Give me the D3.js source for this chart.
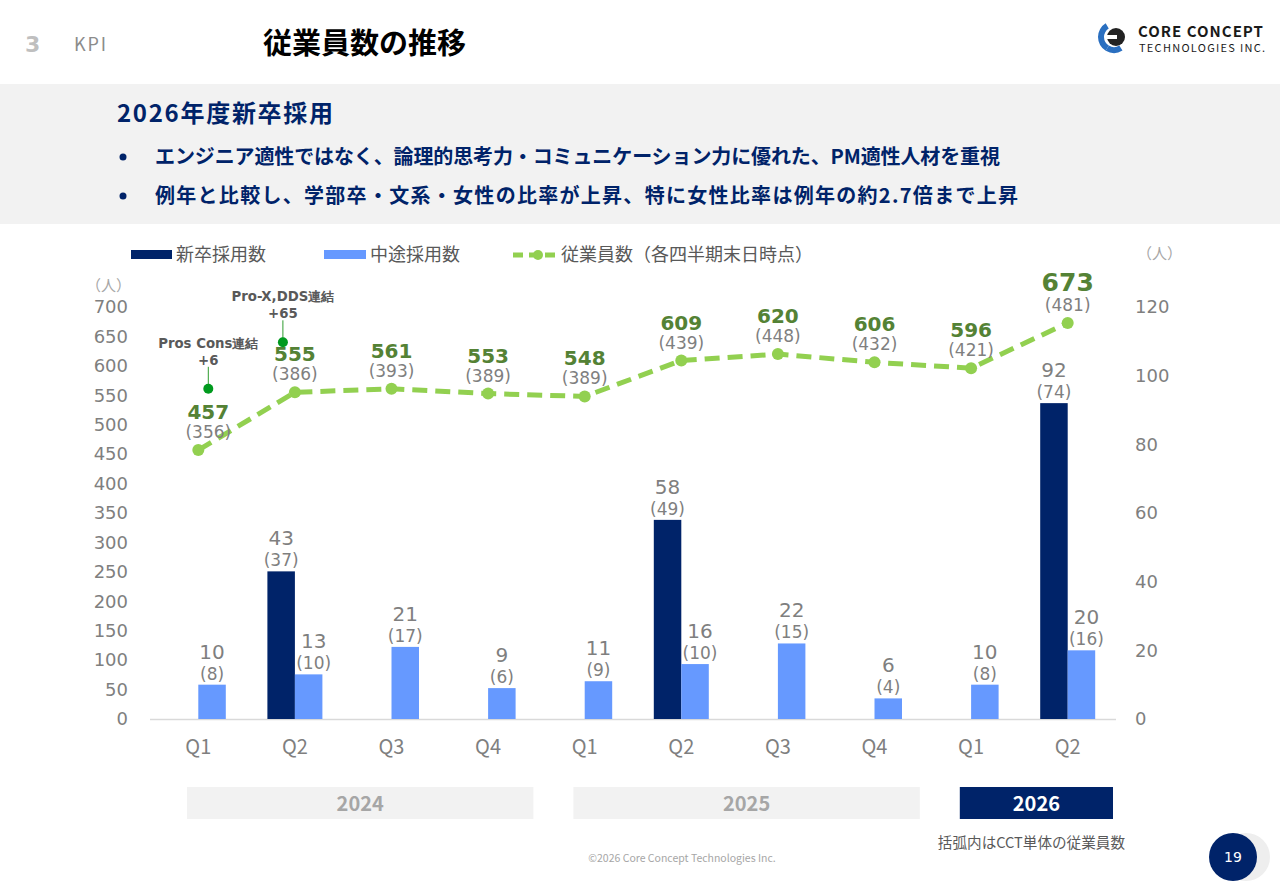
<!DOCTYPE html>
<html>
<head>
<meta charset="utf-8">
<script src="https://cdn.jsdelivr.net/npm/d3@7"></script>
<style>
  body { margin:0; background:#fff; }
  svg text { font-family: "Noto Sans CJK JP", "Noto Sans", sans-serif; }
  .num { font-family: "DejaVu Sans", Verdana, sans-serif; }
</style>
</head>
<body>
<div id="chart-area"></div>
<script>
var quarters = ["Q1","Q2","Q3","Q4","Q1","Q2","Q3","Q4","Q1","Q2"];
var newGrad = [null,43,null,null,null,58,null,null,null,92];
var newGradCCT = [null,37,null,null,null,49,null,null,null,74];
var midCareer = [10,13,21,9,11,16,22,6,10,20];
var midCareerCCT = [8,10,17,6,9,10,15,4,8,16];
var employees = [457,555,561,553,548,609,620,606,596,673];
var employeesCCT = [356,386,393,389,389,439,448,432,421,481];
var leftTicks = d3.range(0,701,50);
var rightTicks = d3.range(0,121,20);
var yearLabels = ["2024","2025","2026"];
var yearFirst = [0,4,8];
var yearLast = [3,7,9];
var notes = [
  {i:0, name:"Pros Cons連結", delta:"+6", level:561},
  {i:1, name:"Pro-X,DDS連結", delta:"+65", level:640}
];

var W = 1280, H = 886;
var navy = "#002369", light = "#6699ff", green = "#92d050", darkGreen = "#548235", grey = "#7f7f7f";

var svg = d3.select('#chart-area').append('svg')
            .attr("width",W)
            .attr("height",H);

// header
svg.append("text").attr("x",25).attr("y",52).attr("font-size",22).attr("font-weight","bold")
   .attr("fill","#bfbfbf").attr("class","num").text("3");
svg.append("text").attr("x",74).attr("y",51).attr("font-size",18).attr("fill","#8c8c8c")
   .attr("textLength",32).text("KPI");
svg.append("text").attr("x",263).attr("y",54).attr("font-size",29).attr("font-weight","bold")
   .attr("fill","#000").text("従業員数の推移");

// logo
var logo = svg.append("g").attr("transform","translate(1114,37)");
logo.append("path").attr("d", d3.arc()({innerRadius:10,outerRadius:16,startAngle:-2.6,endAngle:-0.55}))
    .attr("fill","#2a6fc0");
logo.append("path").attr("d", d3.arc()({innerRadius:10,outerRadius:16,startAngle:-3.7,endAngle:-2.6}))
    .attr("fill","#2a6fc0");
logo.append("circle").attr("cx",2).attr("cy",0).attr("r",9).attr("fill","#222");
logo.append("rect").attr("x",-8).attr("y",-2).attr("width",12).attr("height",4).attr("fill","#fff");
logo.append("rect").attr("x",3).attr("y",-7).attr("width",3).attr("height",14).attr("fill","#222");
svg.append("text").attr("x",1138).attr("y",37).attr("font-size",15).attr("font-weight","bold")
   .attr("font-family","Roboto, sans-serif").attr("fill","#1a1a1a")
   .attr("textLength",125).text("CORE CONCEPT");
svg.append("text").attr("x",1139).attr("y",52).attr("font-size",11)
   .attr("font-family","Roboto, sans-serif").attr("fill","#1a1a1a")
   .attr("textLength",126).text("TECHNOLOGIES INC.");

// summary band
svg.append("rect").attr("x",0).attr("y",84).attr("width",W).attr("height",140).attr("fill","#f2f2f2");
svg.append("text").attr("x",117).attr("y",122).attr("font-size",24).attr("font-weight","bold")
   .attr("fill",navy).attr("textLength",216).text("2026年度新卒採用");
var bullets = ["エンジニア適性ではなく、論理的思考力・コミュニケーション力に優れた、PM適性人材を重視",
               "例年と比較し、学部卒・文系・女性の比率が上昇、特に女性比率は例年の約2.7倍まで上昇"];
var bulletWidths = [845, 863];
bullets.forEach(function(b,k){
  var yy = 164 + k*39;
  svg.append("circle").attr("cx",123).attr("cy",yy-7).attr("r",3.5).attr("fill",navy);
  svg.append("text").attr("x",155).attr("y",yy).attr("font-size",20).attr("font-weight","bold")
     .attr("fill",navy).attr("textLength",bulletWidths[k]).text(b);
});

// scales
var x = d3.scaleBand().domain(d3.range(quarters.length)).range([150,1116]);
var yL = d3.scaleLinear().domain([0,700]).range([719,307]);
var yR = d3.scaleLinear().domain([0,120]).range([719,307]);
var bw = 27.5;
var cx = function(i){ return x(i) + x.bandwidth()/2; };

// axes
var axL = svg.append("g").attr("transform","translate(128,0)")
   .call(d3.axisLeft(yL).tickValues(leftTicks).tickSize(0).tickPadding(0));
var axR = svg.append("g").attr("transform","translate(1135,0)")
   .call(d3.axisRight(yR).tickValues(rightTicks).tickSize(0).tickPadding(0));
[axL,axR].forEach(function(a){
  a.select(".domain").remove();
  a.selectAll("text").attr("class","num").attr("font-size",18).attr("fill",grey);
});
svg.append("text").attr("x",86).attr("y",291).attr("font-size",15).attr("fill","#a6a6a6").text("（人）");
svg.append("text").attr("x",1137).attr("y",259).attr("font-size",15).attr("fill","#a6a6a6").text("（人）");

svg.append("line").attr("x1",150).attr("x2",1116).attr("y1",719.5).attr("y2",719.5)
   .attr("stroke","#d9d9d9").attr("stroke-width",1.5);

// bars
var idx = d3.range(quarters.length);
svg.selectAll(".newbar").data(idx.filter(function(i){ return newGrad[i] != null; })).enter()
   .append("rect").attr("x", function(i){ return cx(i) - bw; })
   .attr("y", function(i){ return yR(newGrad[i]); })
   .attr("width", bw).attr("height", function(i){ return yR(0) - yR(newGrad[i]); })
   .attr("fill", navy);
svg.selectAll(".midbar").data(idx).enter()
   .append("rect").attr("x", function(i){ return cx(i); })
   .attr("y", function(i){ return yR(midCareer[i]); })
   .attr("width", bw).attr("height", function(i){ return yR(0) - yR(midCareer[i]); })
   .attr("fill", light);

function barLabel(xx, top, v, sub){
  svg.append("text").attr("class","num").attr("x",xx).attr("y",top-26).attr("text-anchor","middle")
     .attr("font-size",20).attr("fill",grey).text(v);
  svg.append("text").attr("class","num").attr("x",xx).attr("y",top-5).attr("text-anchor","middle")
     .attr("font-size",17).attr("fill",grey).text("(" + sub + ")");
}
idx.forEach(function(i){
  if (newGrad[i] != null) barLabel(cx(i) - bw/2, yR(newGrad[i]), newGrad[i], newGradCCT[i]);
  var mx = newGrad[i] != null ? cx(i) + bw/2 + 5 : cx(i) + bw/2;
  barLabel(mx, yR(midCareer[i]), midCareer[i], midCareerCCT[i]);
});

// employee line
var line = d3.line().x(function(i){ return cx(i); }).y(function(i){ return yL(employees[i]); });
svg.append("path").datum(idx).attr("d", line).attr("fill","none").attr("stroke",green)
   .attr("stroke-width",5).attr("stroke-dasharray","15,8");
svg.selectAll(".dot").data(idx).enter().append("circle")
   .attr("cx", function(i){ return cx(i); }).attr("cy", function(i){ return yL(employees[i]); })
   .attr("r",6).attr("fill",green);
idx.forEach(function(i){
  var py = yL(employees[i]);
  var big = i === idx.length - 1;
  var lx = cx(i) + (i === 0 ? 10 : 0);
  svg.append("text").attr("class","num").attr("x",lx).attr("y",py - (big ? 32 : 31))
     .attr("text-anchor","middle").attr("font-size", big ? 25 : 20).attr("font-weight","bold")
     .attr("fill",darkGreen).text(employees[i]);
  svg.append("text").attr("class","num").attr("x",lx).attr("y",py - 12)
     .attr("text-anchor","middle").attr("font-size",17).attr("fill",grey)
     .text("(" + employeesCCT[i] + ")");
});

// consolidation notes
notes.forEach(function(n, k){
  var nx = cx(n.i) + (k === 0 ? 10 : -12);
  var ny = yL(n.level);
  svg.append("line").attr("x1",nx).attr("x2",nx).attr("y1",ny).attr("y2",ny-22)
     .attr("stroke","#2e9b2e").attr("stroke-width",1);
  svg.append("circle").attr("cx",nx).attr("cy",ny).attr("r",5).attr("fill","#009a1e");
  svg.append("text").attr("class","num").attr("x",nx).attr("y",ny-41).attr("text-anchor","middle")
     .attr("font-size",13.3).attr("font-weight","bold").attr("fill","#595959").text(n.name);
  svg.append("text").attr("class","num").attr("x",nx).attr("y",ny-24).attr("text-anchor","middle")
     .attr("font-size",13.3).attr("font-weight","bold").attr("fill","#595959").text(n.delta);
});

// category labels
idx.forEach(function(i){
  svg.append("text").attr("x",cx(i)).attr("y",754).attr("text-anchor","middle")
     .attr("font-size",20).attr("fill",grey).attr("font-family","'Liberation Sans Narrow', 'Liberation Sans', sans-serif")
     .text(quarters[i]);
});

// year boxes
yearLabels.forEach(function(yl, k){
  var x0 = x(yearFirst[k]) + 37, x1 = x(yearLast[k]) + x.bandwidth() - 3;
  var last = k === yearLabels.length - 1;
  svg.append("rect").attr("x",x0).attr("y",787).attr("width",x1-x0).attr("height",32)
     .attr("fill", last ? navy : "#f2f2f2");
  svg.append("text").attr("x",(x0+x1)/2).attr("y",811).attr("text-anchor","middle")
     .attr("font-size",20).attr("font-weight","bold")
     .attr("font-family","'Liberation Sans Narrow', 'Liberation Sans', sans-serif")
     .attr("fill", last ? "#fff" : "#a6a6a6").text(yl);
});

// legend
var lg = svg.append("g");
lg.append("rect").attr("x",131).attr("y",250).attr("width",41).attr("height",9).attr("fill",navy);
lg.append("text").attr("x",176).attr("y",261).attr("font-size",18).attr("fill","#595959").text("新卒採用数");
lg.append("rect").attr("x",324).attr("y",250).attr("width",42).attr("height",9).attr("fill",light);
lg.append("text").attr("x",370).attr("y",261).attr("font-size",18).attr("fill","#595959").text("中途採用数");
lg.append("line").attr("x1",513).attr("x2",556).attr("y1",255).attr("y2",255).attr("stroke",green)
  .attr("stroke-width",5).attr("stroke-dasharray","10,6");
lg.append("circle").attr("cx",538).attr("cy",255).attr("r",5).attr("fill",green);
lg.append("text").attr("x",561).attr("y",261).attr("font-size",18).attr("fill","#595959").text("従業員数（各四半期末日時点）");

// footer
svg.append("text").attr("x",1125).attr("y",848).attr("text-anchor","end").attr("font-size",14.6)
   .attr("fill","#595959").text("括弧内はCCT単体の従業員数");
svg.append("text").attr("x",682).attr("y",862).attr("text-anchor","middle").attr("font-size",10.5)
   .attr("fill","#a6a6a6").text("©2026 Core Concept Technologies Inc.");
svg.append("circle").attr("cx",1246).attr("cy",857).attr("r",24).attr("fill","#eeeeee");
svg.append("circle").attr("cx",1233).attr("cy",857).attr("r",24).attr("fill",navy);
svg.append("text").attr("class","num").attr("x",1233).attr("y",862).attr("text-anchor","middle")
   .attr("font-size",14).attr("fill","#fff").text("19");
</script>
</body>
</html>
